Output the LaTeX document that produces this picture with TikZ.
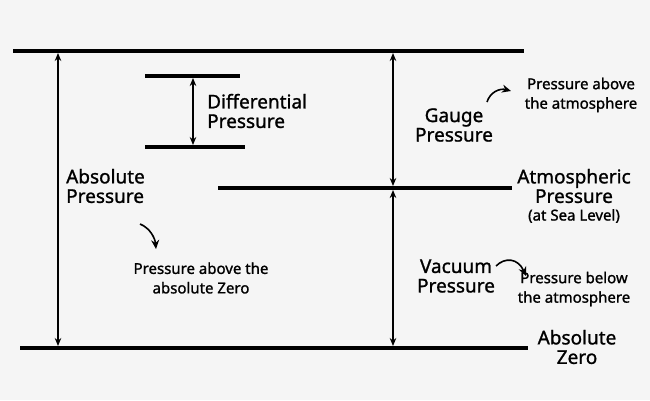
\documentclass[tikz,border=0pt]{standalone}
\usepackage{fontspec}
\setmainfont{Noto Sans}[FakeBold=1.2]
\usetikzlibrary{arrows.meta}
\begin{document}
\begin{tikzpicture}[x=1pt,y=-1pt,
  lvl/.style={line width=3.2pt},
  dim/.style={line width=1.5pt,{Stealth[length=8pt,width=6.5pt]}-{Stealth[length=8pt,width=6.5pt]}},
  cur/.style={line width=1.6pt,-{Stealth[length=9pt,width=8pt]}},
  big/.style={font=\bfseries\fontsize{19}{19.5}\selectfont,align=center,inner sep=0pt},
  sm/.style={font=\fontsize{15}{19.5}\selectfont,align=center,inner sep=0pt}]
\fill[black!4] (0,0) rectangle (650,400);
\useasboundingbox (0,0) rectangle (650,400);
\coordinate (t1) at (13,51); \coordinate (t2) at (524,51);
\coordinate (b1) at (20,348); \coordinate (b2) at (528,348);
\coordinate (a1) at (218,188); \coordinate (a2) at (512,188);
\coordinate (d1) at (145,76); \coordinate (d2) at (240,76);
\coordinate (e1) at (145,147); \coordinate (e2) at (245,147);
\draw[lvl] (t1)--(t2); \draw[lvl] (b1)--(b2); \draw[lvl] (a1)--(a2);
\draw[lvl] (d1)--(d2); \draw[lvl] (e1)--(e2);
\coordinate (p1) at (58,53); \coordinate (p2) at (58,346);
\coordinate (q1) at (193,78); \coordinate (q2) at (193,145);
\coordinate (r1) at (393,53); \coordinate (r2) at (393,186);
\coordinate (s1) at (393,190); \coordinate (s2) at (393,346);
\draw[dim] (p1)--(p2); \draw[dim] (q1)--(q2); \draw[dim] (r1)--(r2); \draw[dim] (s1)--(s2);
\node[big,align=left,anchor=west] (dp) at (207,111) {Differential\\Pressure};
\node[big,align=left,anchor=west] (ap) at (66,186) {Absolute\\Pressure};
\node[big] (gp) at (454,125) {Gauge\\Pressure};
\node[big] (atm) at (574,186) {Atmospheric\\Pressure};
\node[sm] (sea) at (574,216) {(at Sea Level)};
\node[big] (vp) at (456,276) {Vacuum\\Pressure};
\node[big] (az) at (577,347) {Absolute\\Zero};
\node[sm] (ga) at (581,95) {Pressure above\\the atmosphere};
\node[sm] (aa) at (201,278) {Pressure above the\\absolute Zero};
\node[sm] (va) at (574,289) {Pressure below\\the atmosphere};
\coordinate (g0) at (487,102); \coordinate (g1) at (511,91);
\draw[cur] (g0) .. controls (490,92) and (500,88) .. (g1);
\coordinate (h0) at (140,224); \coordinate (h1) at (156,249);
\draw[cur] (h0) .. controls (150,228) and (155,238) .. (h1);
\coordinate (v0) at (496,266); \coordinate (v1) at (526,276);
\draw[cur] (v0) .. controls (505,257) and (518,258) .. (v1);
\end{tikzpicture}
\end{document}
